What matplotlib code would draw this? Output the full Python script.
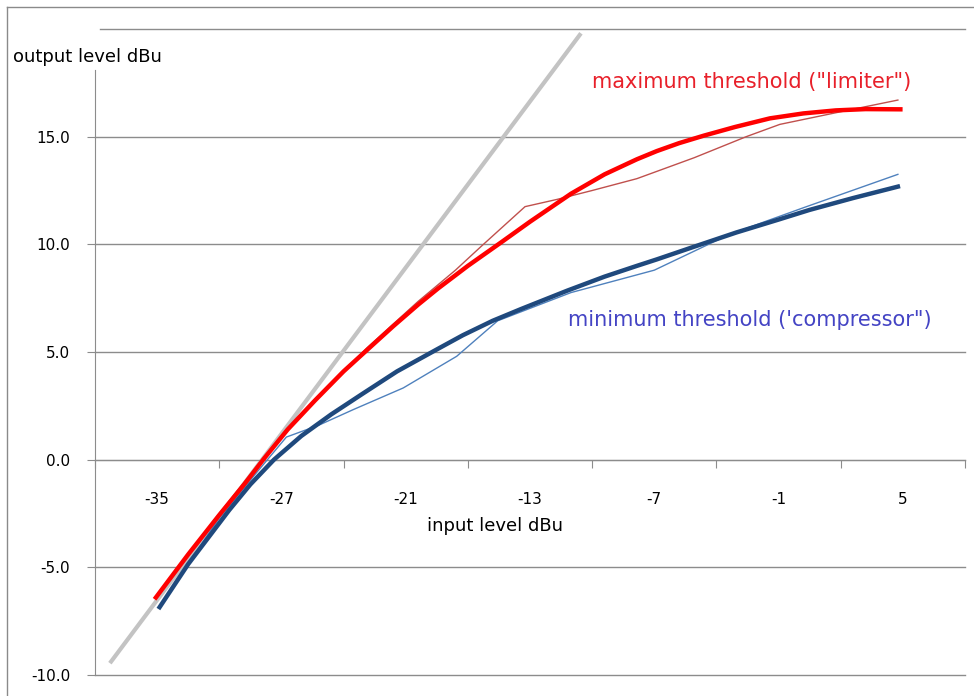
import matplotlib
matplotlib.use("Agg")
import matplotlib.pyplot as plt
from matplotlib.lines import Line2D

# x positions are in category-interval units (0..7), labels sit mid-interval
tick_labels = ["-35", "-27", "-21", "-13", "-7", "-1", "5"]
y_ticks = [-10, -5, 0, 5, 10, 15]

# reference (1:1) line
ref_x = [0.12, 3.91]
ref_y = [-9.45, 19.8]

# maximum threshold ("limiter") - smooth curve
max_x = [0.49, 0.75, 1.0, 1.2, 1.36, 1.55, 1.77, 2.0, 2.19, 2.4, 2.6, 2.76, 3.0,
         3.27, 3.5, 3.83, 4.1, 4.36, 4.52, 4.7, 4.9, 5.15, 5.43, 5.7, 5.96, 6.2, 6.48]
max_y = [-6.4, -4.4, -2.57, -1.15, 0.05, 1.4, 2.75, 4.1, 5.1, 6.2, 7.2, 7.95, 9.0,
         10.1, 11.05, 12.35, 13.25, 13.95, 14.33, 14.7, 15.05, 15.45, 15.85, 16.08, 16.22, 16.28, 16.27]

# maximum threshold - measured
max_meas_x = [0.49, 1.0, 1.36, 1.77, 2.19, 2.6, 2.9, 3.11, 3.46, 3.72, 4.0, 4.36,
              4.82, 5.24, 5.51, 5.96, 6.46]
max_meas_y = [-6.35, -2.5, 0.1, 2.8, 5.2, 7.35, 8.8, 9.92, 11.75, 12.09, 12.5, 13.05,
              14.02, 15.0, 15.57, 16.11, 16.7]

# minimum threshold ("compressor") - smooth curve
min_x = [0.52, 0.75, 1.08, 1.25, 1.44, 1.66, 1.9, 2.15, 2.43, 2.76, 2.96, 3.2, 3.43,
         3.8, 4.1, 4.36, 4.52, 4.8, 5.16, 5.5, 5.75, 6.1, 6.46]
min_y = [-6.85, -4.85, -2.34, -1.15, 0.0, 1.1, 2.1, 3.05, 4.1, 5.15, 5.78, 6.45, 7.0,
         7.85, 8.5, 9.0, 9.3, 9.85, 10.55, 11.15, 11.6, 12.15, 12.68]

# minimum threshold - measured
min_meas_x = [0.52, 1.0, 1.3, 1.54, 1.8, 2.08, 2.48, 2.91, 3.24, 3.83, 4.5, 5.1, 5.7, 6.46]
min_meas_y = [-6.8, -2.7, -0.6, 1.05, 1.6, 2.33, 3.33, 4.8, 6.45, 7.76, 8.8, 10.45, 11.7, 13.25]

plt.rcParams['font.family'] = ['DejaVu Sans']

fig = plt.figure(figsize=(9.74, 6.96), dpi=100)
ax = fig.add_axes([95 / 974, 21 / 696, 870 / 974, 646 / 696])

grid_col = '#8c8c8c'
for v in y_ticks:
    ax.axhline(v, color=grid_col, lw=1, zorder=1, clip_on=False)
ax.axhline(20, xmin=0.006, color=grid_col, lw=1, zorder=1, clip_on=False)

ax.plot(ref_x, ref_y, color='#c3c3c3', lw=3, solid_capstyle='butt', zorder=2)
ax.plot(max_meas_x, max_meas_y, color='#c0504d', lw=1, zorder=3)
ax.plot(max_x, max_y, color='#ff0000', lw=3.2, zorder=4)
ax.plot(min_meas_x, min_meas_y, color='#4f81bd', lw=1, zorder=3)
ax.plot(min_x, min_y, color='#1f497d', lw=3.2, zorder=4)

ax.set_xlim(0, 7)
ax.set_ylim(-10, 20)

ax.spines['top'].set_visible(False)
ax.spines['right'].set_visible(False)
ax.spines['bottom'].set_position(('data', 0))
ax.spines['bottom'].set_color(grid_col)
ax.spines['left'].set_color(grid_col)
ax.spines['left'].set_bounds(-10, 18.1)

ax.set_xticks(range(8))
ax.set_xticklabels([])
ax.set_xticks([i + 0.5 for i in range(7)], minor=True)
ax.set_xticklabels(tick_labels, minor=True, fontsize=11)
ax.tick_params(axis='x', which='major', direction='out', length=6, color=grid_col)
ax.tick_params(axis='x', which='minor', length=0, pad=23)

ax.set_yticks(y_ticks)
ax.set_yticklabels([f"{v:.1f}" for v in y_ticks], fontsize=11)
ax.tick_params(axis='y', direction='out', length=6, color=grid_col, pad=12)

ax.text(3.22, -3.1, "input level dBu", fontsize=13, ha='center', va='center')
fig.text(13 / 974, 1 - 57 / 696, "output level dBu", fontsize=13, ha='left', va='center',
         bbox=dict(facecolor='white', edgecolor='none', pad=2))

ax.text(5.28, 17.56, "maximum threshold (\"limiter\")", color='#e8202a', fontsize=15,
        ha='center', va='center')
ax.text(5.27, 6.5, "minimum threshold ('compressor\")", color='#4444c4', fontsize=15,
        ha='center', va='center')

# outer chart frame (top and left edges)
fig.add_artist(Line2D([7 / 974, 1], [1 - 7 / 696, 1 - 7 / 696], color='#8a8a8a', lw=1))
fig.add_artist(Line2D([7 / 974, 7 / 974], [0, 1 - 7 / 696], color='#8a8a8a', lw=1))

fig.savefig("out.png", dpi=100)
